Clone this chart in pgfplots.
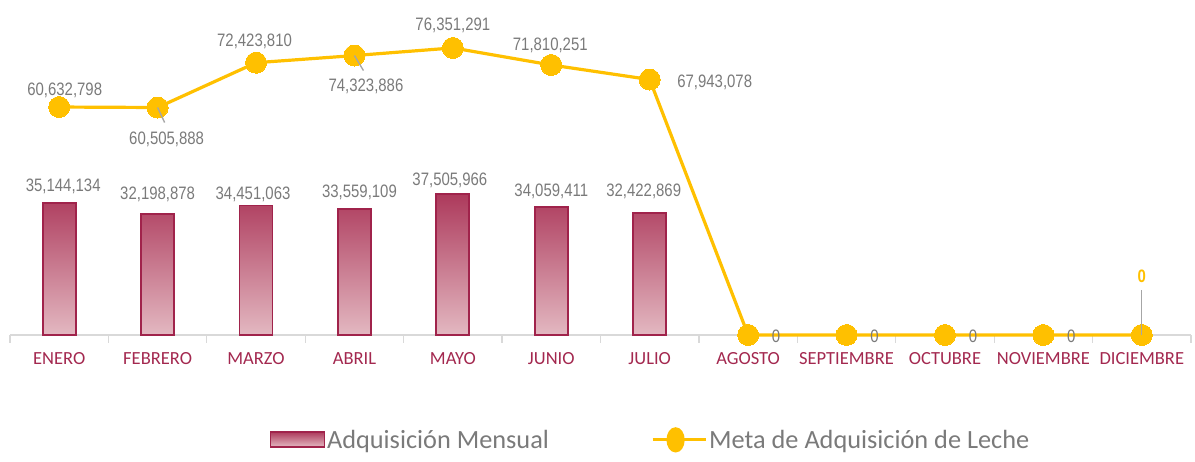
\documentclass[border=0pt]{standalone}
\usepackage{pgfplots}
\usepackage{pgfplotstable}
\pgfplotsset{compat=1.18}
\usepackage{fontspec}
\setmainfont{Carlito}
\newfontfamily\numfont{Liberation Sans}[FakeStretch=0.83]
\definecolor{gold}{HTML}{FFC000}
\definecolor{baredge}{HTML}{A0234B}
\definecolor{bartop}{HTML}{AD3A5C}
\definecolor{barbot}{HTML}{E3B8C1}
\definecolor{labgray}{HTML}{7A7A7A}
\definecolor{axgray}{HTML}{D9D9D9}
\definecolor{leadgray}{HTML}{A6A6A6}
\definecolor{catred}{HTML}{A3284F}

\pgfplotstableread{
x y lab dx dy
0 35144134 35,144,134 4 16
1 32198878 32,198,878 0 20
2 34451063 34,451,063 -3 11
3 33559109 33,559,109 5 16
4 37505966 37,505,966 -3 14
5 34059411 34,059,411 0 16
6 32422869 32,422,869 -6 22
}\bardata

\pgfplotstableread{
x y lab dx dy
0 60632798 60,632,798 5.5 17
1 60505888 60,505,888 9 -32
2 72423810 72,423,810 -1.5 21
3 74323886 74,323,886 11.5 -31
4 76351291 76,351,291 0 23
5 71810251 71,810,251 -1 20
6 67943078 67,943,078 65 -3
7 0 0 28 -1
8 0 0 28 -1
9 0 0 28 -1
10 0 0 28 -1
11 0 {} 0 0
}\linedata

\begin{document}
\begin{tikzpicture}[x=1pt,y=1pt]
\useasboundingbox (0,0) rectangle (1195,462);
\begin{axis}[
  at={(10pt,127pt)}, anchor=south west,
  scale only axis, width=1181pt, height=335pt,
  xmin=-0.5, xmax=11.5, ymin=0, ymax=89.1e6,
  axis x line*=bottom, axis y line=none,
  x axis line style={draw=axgray, line width=1.3pt, -},
  xtick={0,...,11},
  xticklabels={ENERO,FEBRERO,MARZO,ABRIL,MAYO,JUNIO,JULIO,AGOSTO,SEPTIEMBRE,OCTUBRE,NOVIEMBRE,DICIEMBRE},
  xticklabel style={font=\fontsize{18.5}{20}\selectfont, text=catred, anchor=base, yshift=-30pt},
  major tick length=0pt,
  minor xtick={-0.5,0.5,...,11.5},
  minor tick length=8pt,
  tick align=outside,
  minor tick style={draw=axgray, line width=1.3pt},
  clip=false,
  legend style={at={(axis description cs:0.5423,-0.313)}, anchor=center,
    draw=none, fill=none, legend columns=2,
    font=\fontsize{26.3}{28}\selectfont, text=labgray,
    nodes={inner xsep=2pt, inner ysep=2pt},
    /tikz/every even column/.append style={column sep=100pt}},
]
\addplot[ybar, bar width=33pt, draw=baredge, line width=1.8pt,
  top color=bartop, bottom color=barbot,
  point meta=explicit symbolic,
  visualization depends on={\thisrow{dx}\as\ldx},
  visualization depends on={\thisrow{dy}\as\ldy},
  nodes near coords,
  every node near coord/.append style={anchor=center, xshift={\ldx*1pt}, yshift={\ldy*1pt},
    font=\numfont\fontsize{18}{19}\selectfont, text=labgray},
  legend image code/.code={\draw[draw=baredge, line width=1.5pt, top color=bartop, bottom color=barbot] (0pt,-7pt) rectangle (54pt,8pt);},
] table[x=x,y=y,meta=lab]{\bardata};
\addlegendentry{Adquisición Mensual}

\addplot[draw=gold, line width=3.2pt, mark=*, mark size=10.5pt,
  mark options={fill=gold, draw=gold, line width=0pt},
  point meta=explicit symbolic,
  visualization depends on={\thisrow{dx}\as\ldx},
  visualization depends on={\thisrow{dy}\as\ldy},
  nodes near coords,
  every node near coord/.append style={anchor=center, xshift={\ldx*1pt}, yshift={\ldy*1pt},
    font=\numfont\fontsize{18}{19}\selectfont, text=labgray},
  legend image code/.code={\draw[gold, line width=3.2pt] (0pt,0pt) -- (53pt,0pt); \fill[gold] (23pt,0pt) ellipse (7.5pt and 11pt);},
] table[x=x,y=y,meta=lab]{\linedata};
\addlegendentry{Meta de Adquisición de Leche}

\coordinate (pFeb) at (axis cs:1,60505888);
\coordinate (pAbr) at (axis cs:3,74323886);
\coordinate (pDic) at (axis cs:11,0);
\end{axis}
\draw[leadgray, line width=1.4pt] (pFeb) -- ++(7pt,-15pt);
\draw[leadgray, line width=1.4pt] (pAbr) -- ++(9pt,-15pt);
\draw[leadgray, line width=1.4pt] (pDic) -- ++(0pt,45pt);
\path (pDic) ++(0pt,59pt) node[text=gold, font=\numfont\bfseries\fontsize{18}{19}\selectfont] {0};
\end{tikzpicture}
\end{document}
